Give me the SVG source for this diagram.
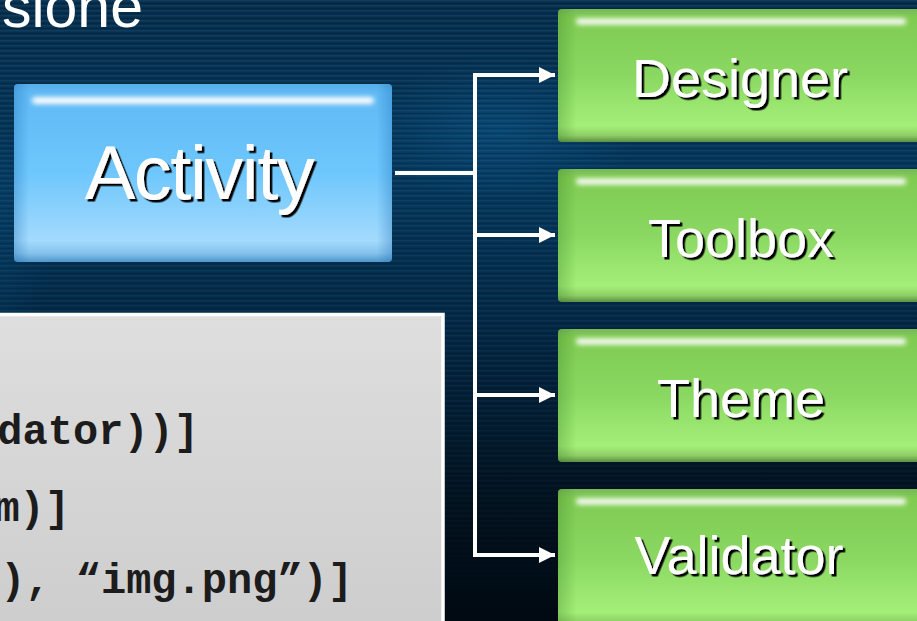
<svg xmlns="http://www.w3.org/2000/svg" width="917" height="621" viewBox="0 0 917 621">
  <defs>
    <linearGradient id="bg" x1="0" y1="0" x2="0" y2="1">
      <stop offset="0" stop-color="#062d4b"/>
      <stop offset="0.3" stop-color="#05375b"/>
      <stop offset="0.55" stop-color="#032540"/>
      <stop offset="0.8" stop-color="#02121f"/>
      <stop offset="1" stop-color="#010a12"/>
    </linearGradient>
    <radialGradient id="glowL" cx="0" cy="0.45" r="0.5" gradientUnits="objectBoundingBox">
      <stop offset="0" stop-color="#0b5f96" stop-opacity="0.8"/>
      <stop offset="1" stop-color="#0b5f96" stop-opacity="0"/>
    </radialGradient>
    <radialGradient id="glowC" cx="0.5" cy="0.5" r="0.5">
      <stop offset="0" stop-color="#0a5588" stop-opacity="0.55"/>
      <stop offset="1" stop-color="#0a5588" stop-opacity="0"/>
    </radialGradient>
    <pattern id="streak" width="40" height="5" patternUnits="userSpaceOnUse">
      <rect x="0" y="0" width="40" height="1.5" fill="#5fa8d8" opacity="0.12"/>
      <rect x="0" y="3" width="40" height="1" fill="#000000" opacity="0.15"/>
    </pattern>
    <linearGradient id="streakFade" x1="0" y1="0" x2="0" y2="1">
      <stop offset="0" stop-color="#fff" stop-opacity="1"/>
      <stop offset="0.6" stop-color="#fff" stop-opacity="0.6"/>
      <stop offset="1" stop-color="#fff" stop-opacity="0"/>
    </linearGradient>
    <mask id="streakMask">
      <rect x="0" y="0" width="917" height="621" fill="url(#streakFade)"/>
    </mask>
    <linearGradient id="blueFill" x1="0" y1="0" x2="0" y2="1">
      <stop offset="0" stop-color="#56aee9"/>
      <stop offset="0.05" stop-color="#5fb9f4"/>
      <stop offset="0.5" stop-color="#6ec7fc"/>
      <stop offset="0.88" stop-color="#a3dafd"/>
      <stop offset="0.95" stop-color="#86c3ec"/>
      <stop offset="1" stop-color="#4f97cc"/>
    </linearGradient>
    <linearGradient id="greenFill" x1="0" y1="0" x2="0" y2="1">
      <stop offset="0" stop-color="#78b85a"/>
      <stop offset="0.06" stop-color="#7fcb52"/>
      <stop offset="0.5" stop-color="#8ad862"/>
      <stop offset="0.88" stop-color="#a4ef78"/>
      <stop offset="0.95" stop-color="#8fce66"/>
      <stop offset="1" stop-color="#5c8f43"/>
    </linearGradient>
    <linearGradient id="sideShade" x1="0" y1="0" x2="1" y2="0">
      <stop offset="0" stop-color="#1f70b8" stop-opacity="0.35"/>
      <stop offset="0.04" stop-color="#1f70b8" stop-opacity="0"/>
      <stop offset="0.96" stop-color="#1f70b8" stop-opacity="0"/>
      <stop offset="1" stop-color="#1f70b8" stop-opacity="0.35"/>
    </linearGradient>
    <linearGradient id="sideShadeG" x1="0" y1="0" x2="1" y2="0">
      <stop offset="0" stop-color="#3f8a2a" stop-opacity="0.35"/>
      <stop offset="0.05" stop-color="#3f8a2a" stop-opacity="0"/>
    </linearGradient>
    <linearGradient id="codeFill" x1="0" y1="0" x2="0" y2="1">
      <stop offset="0" stop-color="#dedede"/>
      <stop offset="1" stop-color="#cdcdcd"/>
    </linearGradient>
    <filter id="blur3" x="-10%" y="-200%" width="120%" height="500%">
      <feGaussianBlur stdDeviation="2.5"/>
    </filter>
    <filter id="shadow" x="-10%" y="-20%" width="130%" height="150%">
      <feDropShadow dx="2.5" dy="2.5" stdDeviation="0.3" flood-color="#000" flood-opacity="1"/>
    </filter>
    <marker id="arrow" markerUnits="userSpaceOnUse" markerWidth="17" markerHeight="17" refX="16" refY="8" orient="auto" viewBox="0 0 17 17">
      <path d="M0,0 L16,8 L0,16 z" fill="#ffffff"/>
    </marker>
    <style>
      .label { font-family: "Liberation Sans", Arial, sans-serif; fill: #ffffff; text-anchor: middle; filter: url(#shadow); }
      .code { font-family: "Liberation Mono", "Courier New", monospace; font-weight: bold; font-size: 42px; fill: #1c1c1c; text-anchor: end; }
      .conn { fill: none; stroke: #ffffff; stroke-width: 4; }
      .hl { fill: #ffffff; filter: url(#blur3); }
    </style>
  </defs>

  <!-- background -->
  <rect x="0" y="0" width="917" height="621" fill="url(#bg)"/>
  <rect x="-200" y="60" width="500" height="420" fill="url(#glowL)"/>
  <ellipse cx="500" cy="130" rx="140" ry="70" fill="url(#glowC)"/>
  <rect x="0" y="0" width="917" height="621" fill="url(#streak)" mask="url(#streakMask)"/>

  <!-- title fragment -->
  <text x="143" y="27" font-family="Liberation Sans, Arial, sans-serif" font-size="59" fill="#ffffff" text-anchor="end">sione</text>

  <!-- code box -->
  <g id="code">
    <rect x="-4" y="314.5" width="447" height="320" fill="url(#codeFill)" stroke="#ffffff" stroke-width="3.5"/>
    <text class="code" x="199" y="444">dator))]</text>
    <text class="code" x="70" y="521">m)]</text>
    <text class="code" x="353" y="593">), “img.png”)]</text>
  </g>

  <!-- connectors -->
  <g id="connectors">
    <path class="conn" d="M395,173 H475"/>
    <path class="conn" d="M475,73 V557"/>
    <path class="conn" d="M473,75 H555" marker-end="url(#arrow)"/>
    <path class="conn" d="M475,235 H555" marker-end="url(#arrow)"/>
    <path class="conn" d="M475,395 H555" marker-end="url(#arrow)"/>
    <path class="conn" d="M473,555 H555" marker-end="url(#arrow)"/>
  </g>

  <!-- Activity -->
  <g id="activity">
    <rect x="14" y="84" width="378" height="178" rx="4" fill="url(#blueFill)"/>
    <rect x="14" y="84" width="378" height="178" rx="4" fill="url(#sideShade)"/>
    <rect x="32" y="97" width="342" height="7" rx="3.5" class="hl"/>
    <text class="label" x="199" y="199" font-size="76" letter-spacing="-1.5">Activity</text>
  </g>

  <!-- Designer -->
  <g id="designer">
    <rect x="558" y="9" width="370" height="133" rx="4" fill="url(#greenFill)"/>
    <rect x="558" y="9" width="370" height="133" rx="4" fill="url(#sideShadeG)"/>
    <rect x="576" y="18.5" width="330" height="6" rx="3" class="hl"/>
    <text class="label" x="740" y="97" font-size="54">Designer</text>
  </g>

  <!-- Toolbox -->
  <g id="toolbox">
    <rect x="558" y="169" width="370" height="133" rx="4" fill="url(#greenFill)"/>
    <rect x="558" y="169" width="370" height="133" rx="4" fill="url(#sideShadeG)"/>
    <rect x="576" y="178.5" width="330" height="6" rx="3" class="hl"/>
    <text class="label" x="741" y="257" font-size="54">Toolbox</text>
  </g>

  <!-- Theme -->
  <g id="theme">
    <rect x="558" y="329" width="370" height="133" rx="4" fill="url(#greenFill)"/>
    <rect x="558" y="329" width="370" height="133" rx="4" fill="url(#sideShadeG)"/>
    <rect x="576" y="338.5" width="330" height="6" rx="3" class="hl"/>
    <text class="label" x="741" y="417" font-size="54">Theme</text>
  </g>

  <!-- Validator -->
  <g id="validator">
    <rect x="558" y="489" width="370" height="140" rx="4" fill="url(#greenFill)"/>
    <rect x="558" y="489" width="370" height="140" rx="4" fill="url(#sideShadeG)"/>
    <rect x="576" y="498.5" width="330" height="6" rx="3" class="hl"/>
    <text class="label" x="739" y="574" font-size="54">Validator</text>
  </g>
</svg>
